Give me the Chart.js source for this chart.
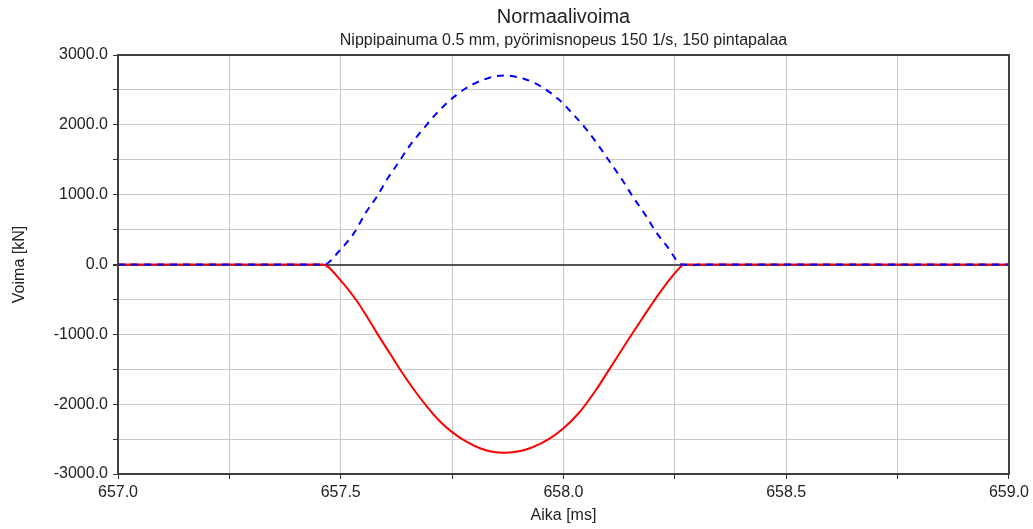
<!DOCTYPE html>
<html>
<head>
<meta charset="utf-8">
<script src="https://cdn.jsdelivr.net/npm/chart.js@4"></script>
<style>
  body { margin: 0; background: #fff; }
</style>
</head>
<body>
<canvas id="voimaChart" width="1033" height="529"></canvas>
<script>
// aika [ms] ja voima [kN], luettu kuvasta
var aika_punainen = [657.0, 657.46, 657.50, 657.537, 657.56, 657.582, 657.612, 657.638, 657.664, 657.694,
  657.72, 657.75, 657.784, 657.814, 657.843, 657.871, 657.90, 657.929, 657.967, 658.0,
  658.034, 658.071, 658.101, 658.138, 658.176, 658.206, 658.235, 658.265, 658.27, 659.0]
var voima_punainen = [0, 0, -230, -530, -760, -990, -1290, -1550, -1790, -2040,
  -2230, -2400, -2545, -2635, -2685, -2695, -2675, -2620, -2500, -2345,
  -2130, -1815, -1520, -1150, -780, -495, -240, -20, 0, 0]

var aika_sininen = [657.0, 657.463, 657.496, 657.53, 657.556, 657.582, 657.604, 657.627, 657.653, 657.683,
  657.713, 657.743, 657.78, 657.821, 657.866, 657.911, 657.952, 657.989, 658.019, 658.052,
  658.079, 658.105, 658.131, 658.157, 658.183, 658.209, 658.235, 658.262, 658.27, 658.29, 658.31, 659.0]
var voima_sininen = [0, 0, 190, 453, 740, 980, 1220, 1436, 1685, 1925,
  2150, 2340, 2520, 2648, 2706, 2660, 2540, 2365, 2170, 1930,
  1700, 1460, 1221, 957, 718, 454, 239, 9, 0, -10, 0, 0]

var otsikko = 'Normaalivoima'
var alaotsikko = 'Nippipainuma 0.5 mm, pyörimisnopeus 150 1/s, 150 pintapalaa'

function pisteet(xs, ys) {
  var out = []
  for (var i = 0; i < xs.length; i++) out.push({ x: xs[i], y: ys[i] })
  return out
}

var fontti = 'Liberation Sans, Arial, sans-serif'

// kehys + otsikot keskitettynä piirtoalueen päälle
var kehys = {
  id: 'kehys',
  afterDraw: function (chart) {
    var ctx = chart.ctx
    var a = chart.chartArea
    ctx.save()
    ctx.strokeStyle = '#404040'
    ctx.lineWidth = 2
    ctx.strokeRect(a.left, a.top, a.right - a.left, a.bottom - a.top)
    var cx = (a.left + a.right) / 2
    ctx.fillStyle = '#222'
    ctx.textAlign = 'center'
    ctx.textBaseline = 'middle'
    ctx.font = '20px ' + fontti
    ctx.fillText(otsikko, cx, 17)
    ctx.font = '16px ' + fontti
    ctx.fillText(alaotsikko, cx, 41)
    ctx.restore()
  }
}

var ctx = document.getElementById('voimaChart').getContext('2d')
var myChart = new Chart(ctx, {
  type: 'line',
  data: {
    datasets: [{
      data: pisteet(aika_sininen, voima_sininen),
      borderColor: '#0000ff',
      borderWidth: 2,
      borderDash: [7, 6],
      pointRadius: 0,
      cubicInterpolationMode: 'monotone',
      order: 0
    }, {
      data: pisteet(aika_punainen, voima_punainen),
      borderColor: '#ff0000',
      borderWidth: 2,
      pointRadius: 0,
      cubicInterpolationMode: 'monotone',
      order: 1
    }]
  },
  options: {
    responsive: false,
    animation: false,
    layout: { padding: { top: 55, right: 24, left: 0, bottom: 0 } },
    plugins: {
      legend: { display: false },
      title: { display: false },
      tooltip: { enabled: false }
    },
    scales: {
      x: {
        type: 'linear',
        min: 657,
        max: 659,
        afterFit: function (s) { s.height = 55 },
        border: { display: false },
        grid: { color: '#c8c8c8', tickColor: '#333', tickLength: 5 },
        ticks: {
          stepSize: 0.25,
          autoSkip: false,
          maxRotation: 0,
          padding: 4,
          color: '#222',
          font: { family: fontti, size: 16 },
          callback: function (v) {
            return Math.abs(v * 2 - Math.round(v * 2)) < 1e-6 ? v.toFixed(1) : ''
          }
        },
        title: { display: true, text: 'Aika [ms]', color: '#222', font: { family: fontti, size: 16 }, padding: { top: 4, bottom: 4 } }
      },
      y: {
        min: -3000,
        max: 3000,
        afterFit: function (s) { s.width = 118 },
        border: { display: false },
        grid: {
          color: function (c) { return c.tick && c.tick.value === 0 ? '#555' : '#c8c8c8' },
          lineWidth: function (c) { return c.tick && c.tick.value === 0 ? 2 : 1 },
          tickColor: '#333',
          tickLength: 5
        },
        ticks: {
          stepSize: 500,
          autoSkip: false,
          padding: 5,
          color: '#222',
          font: { family: fontti, size: 16 },
          callback: function (v) { return v % 1000 === 0 ? v.toFixed(1) : '' }
        },
        title: { display: true, text: 'Voima [kN]', color: '#222', font: { family: fontti, size: 16 }, padding: { top: 10, bottom: 4 } }
      }
    }
  },
  plugins: [kehys]
})
</script>
</body>
</html>
